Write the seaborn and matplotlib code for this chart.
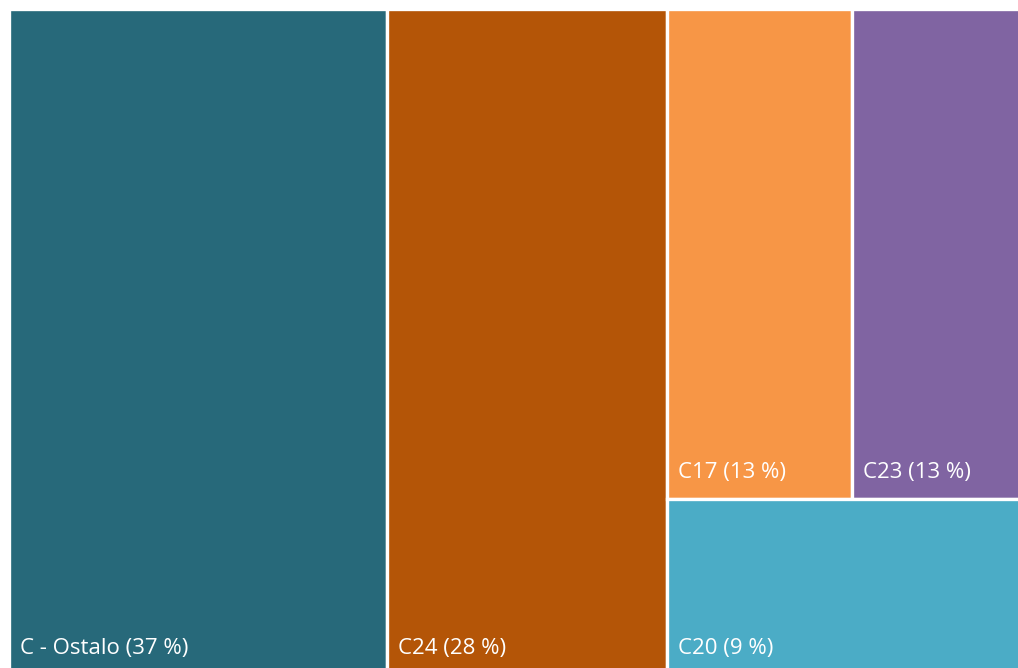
import matplotlib
matplotlib.use("Agg")
import matplotlib.pyplot as plt
from matplotlib import font_manager
from matplotlib.patches import Rectangle
import seaborn as sns

# ---- data ----
categories = ["C - Ostalo", "C24", "C17", "C23", "C20"]
values = [37.2, 27.6, 13.4, 12.5, 9.3]
colors = ["#27697A", "#B45507", "#F79646", "#8064A2", "#4BACC6"]

sns.set_theme(style="white")
names = {f.name for f in font_manager.fontManager.ttflist}
fam = [f for f in ["Liberation Sans Narrow", "Open Sans", "DejaVu Sans"] if f in names]
plt.rcParams["font.family"] = fam

W_PX, H_PX = 1018, 668
fig = plt.figure(figsize=(W_PX / 100, H_PX / 100), dpi=100)
ax = fig.add_axes([0, 0, 1, 1])
ax.set_xlim(0, W_PX)
ax.set_ylim(H_PX, 0)
ax.axis("off")

# layout: columns -> [Ostalo], [C24], [[C17, C23], [C20]]
x0, y0, W, H = 9, 9, 1016, 666
total = sum(values)
pal = sns.color_palette(colors)

rects = {}
cx = x0
for idx in (0, 1):
    w = W * values[idx] / total
    rects[idx] = (cx, y0, w, H)
    cx += w
rest = values[2] + values[3] + values[4]
wr = W * rest / total
top_h = H * (values[2] + values[3]) / rest
rx = cx
for idx in (2, 3):
    w = wr * values[idx] / (values[2] + values[3])
    rects[idx] = (rx, y0, w, top_h)
    rx += w
rects[4] = (cx, y0 + top_h, wr, H - top_h)

for i, name in enumerate(categories):
    x, y, w, h = rects[i]
    ax.add_patch(Rectangle((x, y), w, h, facecolor=pal[i], edgecolor="white",
                           linewidth=2.4))
    pct = int(values[i] + 0.5)
    ax.text(x + 11, y + h - 21, f"{name} ({pct} %)", color="white",
            fontsize=16, va="baseline", ha="left")

fig.savefig("out.png", dpi=100, facecolor="white")
